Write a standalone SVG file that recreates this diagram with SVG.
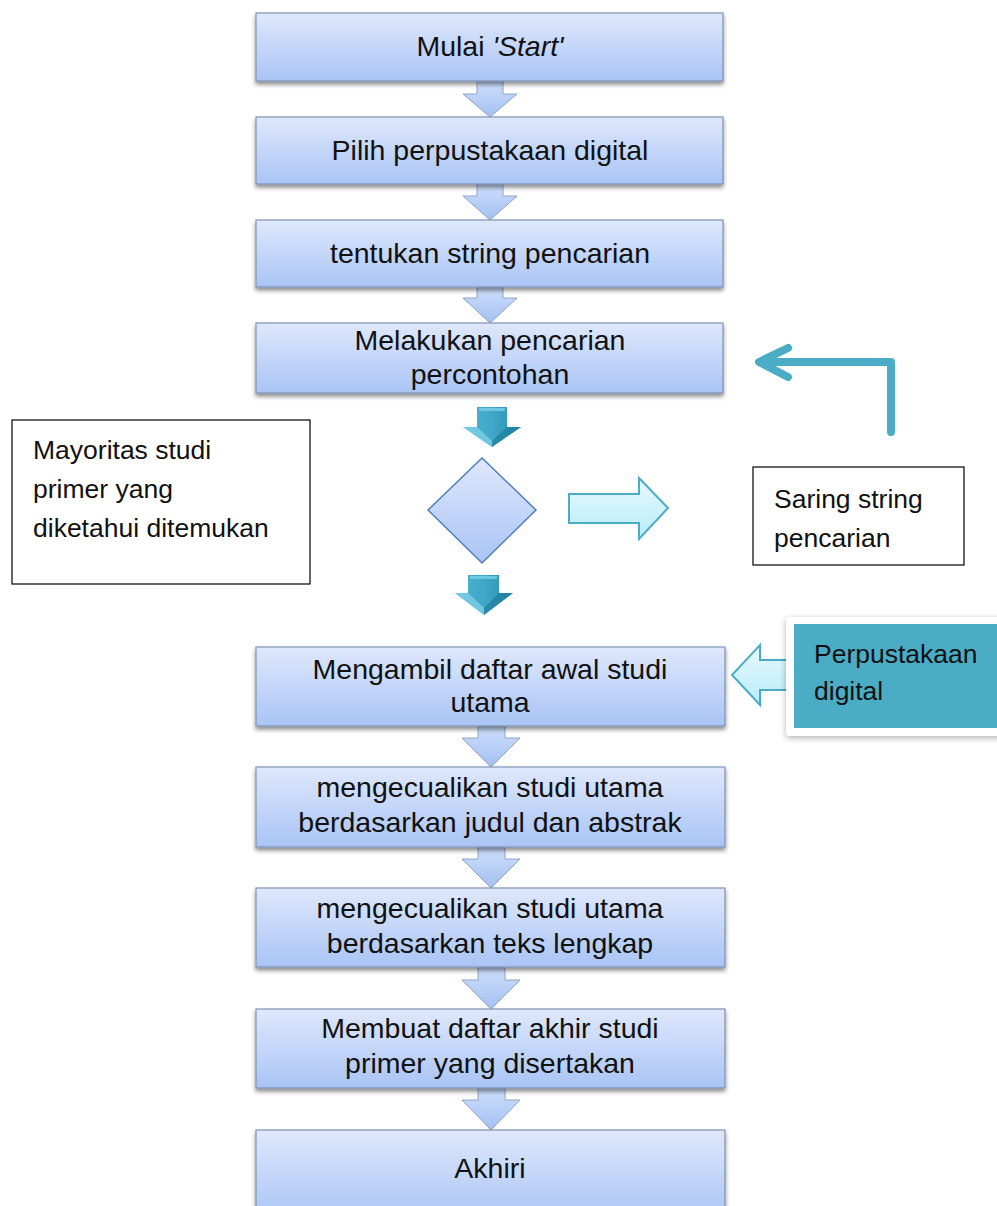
<svg xmlns="http://www.w3.org/2000/svg" width="997" height="1206" viewBox="0 0 997 1206">
<defs>
<linearGradient id="gBox" x1="0" y1="0" x2="0" y2="1">
<stop offset="0" stop-color="#dfe8fc"/>
<stop offset="1" stop-color="#a9c4f5"/>
</linearGradient>
<linearGradient id="gArr" x1="0" y1="0" x2="0" y2="1">
<stop offset="0" stop-color="#cfdffb"/>
<stop offset="1" stop-color="#a3c0f3"/>
</linearGradient>
<linearGradient id="gCyan" x1="0" y1="0" x2="0" y2="1">
<stop offset="0" stop-color="#e6f8fe"/>
<stop offset="1" stop-color="#b9ecfa"/>
</linearGradient>
<linearGradient id="gTeal" x1="0" y1="0" x2="1" y2="0">
<stop offset="0" stop-color="#4fb6d3"/>
<stop offset="0.5" stop-color="#3fa7c7"/>
<stop offset="1" stop-color="#2b8db0"/>
</linearGradient>
<filter id="sh" x="-5%" y="-10%" width="110%" height="130%">
<feDropShadow dx="0" dy="3" stdDeviation="2" flood-color="#000" flood-opacity="0.45"/>
</filter>
<filter id="sh2" x="-10%" y="-10%" width="120%" height="130%">
<feDropShadow dx="0" dy="2" stdDeviation="3" flood-color="#000" flood-opacity="0.3"/>
</filter>
<style>
.box{fill:url(#gBox);stroke:#7f92b2;stroke-width:1.2;filter:url(#sh);}
.arr{fill:url(#gArr);stroke:#8ea4c8;stroke-width:1;}
.t{font-family:"Liberation Sans",Arial,sans-serif;font-size:28.5px;fill:#111;text-anchor:middle;}
.s{font-family:"Liberation Sans",Arial,sans-serif;font-size:26.5px;fill:#111;}
.plain{fill:#fff;stroke:#000;stroke-width:1.2;}
.teal{fill:url(#gTeal);}
.hi{fill:#7ad0e6;opacity:0.8;}
.dk{fill:#1f7d9f;opacity:0.7;}
</style>
</defs>

<g id="connectors">
<!-- light blue block arrows -->
<path class="arr" d="M477,81 H503 V94 H517 L490,117 L463,94 H477 Z"/>
<path class="arr" d="M477,184 H503 V196 H517 L490,220 L463,196 H477 Z"/>
<path class="arr" d="M477,287 H503 V298 H517 L490,323 L463,298 H477 Z"/>
<path class="arr" d="M478,726 H505 V738 H520 L491,767 L462,738 H478 Z"/>
<path class="arr" d="M478,847 H505 V859 H520 L491,888 L462,859 H478 Z"/>
<path class="arr" d="M478,967 H505 V980 H520 L491,1009 L462,980 H478 Z"/>
<path class="arr" d="M478,1088 H505 V1100 H520 L491,1130 L462,1100 H478 Z"/>

<!-- teal 3D down arrows -->
<g id="tealArrow1">
<path class="teal" d="M477,407 H507 V427 H521 L492,447 L463,427 H477 Z"/>
<path class="hi" d="M479,408 H505 V411 H479 Z"/>
<path class="hi" d="M463,427 H477 L492,441 L492,447 Z"/>
<path class="dk" d="M521,427 H507 L492,441 L492,447 Z"/>
</g>
<g id="tealArrow2">
<path class="teal" d="M468,575 H499 V593 H513 L484,615 L455,593 H468 Z"/>
<path class="hi" d="M470,576 H497 V579 H470 Z"/>
<path class="hi" d="M455,593 H468 L484,608 L484,615 Z"/>
<path class="dk" d="M513,593 H499 L484,608 L484,615 Z"/>
</g>

<!-- right arrow from diamond -->
<path d="M569,494 H639 V478 L668,508 L639,539 V523 H569 Z" fill="url(#gCyan)" stroke="#4bacc6" stroke-width="2"/>

<!-- bent feedback arrow -->
<path d="M891,432 V362 H760 M788,348 L759,362 L788,377" fill="none" stroke="#4bacc6" stroke-width="8" stroke-linecap="round" stroke-linejoin="round"/>

<!-- hollow left arrow from Perpustakaan digital -->
<path d="M787,660 H760 V645 L732,675 L760,705 V690 H787 Z" fill="url(#gCyan)" stroke="#4bacc6" stroke-width="2"/>
</g>

<g id="n1"><rect class="box" x="256" y="13" width="467" height="68"/>
<text class="t" x="490" y="56">Mulai <tspan font-style="italic">'Start'</tspan></text></g>

<g id="n2"><rect class="box" x="256" y="117" width="467" height="67"/>
<text class="t" x="490" y="160">Pilih perpustakaan digital</text></g>

<g id="n3"><rect class="box" x="256" y="220" width="467" height="67"/>
<text class="t" x="490" y="263">tentukan string pencarian</text></g>

<g id="n4"><rect class="box" x="256" y="323" width="467" height="70"/>
<text class="t" x="490" y="350">Melakukan pencarian</text>
<text class="t" x="490" y="384">percontohan</text></g>

<g id="n5"><path d="M482,458 L536,510 L482,563 L428,510 Z" fill="url(#gBox)" stroke="#4f7fbd" stroke-width="1.5"/></g>

<g id="n6"><rect class="plain" x="12" y="420" width="298" height="164"/>
<text class="s" x="33" y="459">Mayoritas studi</text>
<text class="s" x="33" y="498">primer yang</text>
<text class="s" x="33" y="537">diketahui ditemukan</text></g>

<g id="n7"><rect class="plain" x="753" y="467" width="211" height="98"/>
<text class="s" x="774" y="508">Saring string</text>
<text class="s" x="774" y="547">pencarian</text></g>

<g id="n8"><rect x="786" y="617" width="230" height="119" rx="4" fill="#fff" filter="url(#sh2)"/>
<rect x="794" y="624" width="210" height="104" fill="#4bacc6"/>
<text class="s" x="814" y="663">Perpustakaan</text>
<text class="s" x="814" y="700">digital</text></g>

<g id="n9"><rect class="box" x="256" y="647" width="469" height="79"/>
<text class="t" x="490" y="679">Mengambil daftar awal studi</text>
<text class="t" x="490" y="712">utama</text></g>

<g id="n10"><rect class="box" x="256" y="767" width="469" height="80"/>
<text class="t" x="490" y="797">mengecualikan studi utama</text>
<text class="t" x="490" y="832">berdasarkan judul dan abstrak</text></g>

<g id="n11"><rect class="box" x="256" y="888" width="469" height="79"/>
<text class="t" x="490" y="918">mengecualikan studi utama</text>
<text class="t" x="490" y="953">berdasarkan teks lengkap</text></g>

<g id="n12"><rect class="box" x="256" y="1009" width="469" height="79"/>
<text class="t" x="490" y="1038">Membuat daftar akhir studi</text>
<text class="t" x="490" y="1073">primer yang disertakan</text></g>

<g id="n13"><rect class="box" x="256" y="1130" width="469" height="90"/>
<text class="t" x="490" y="1178">Akhiri</text></g>
</svg>
